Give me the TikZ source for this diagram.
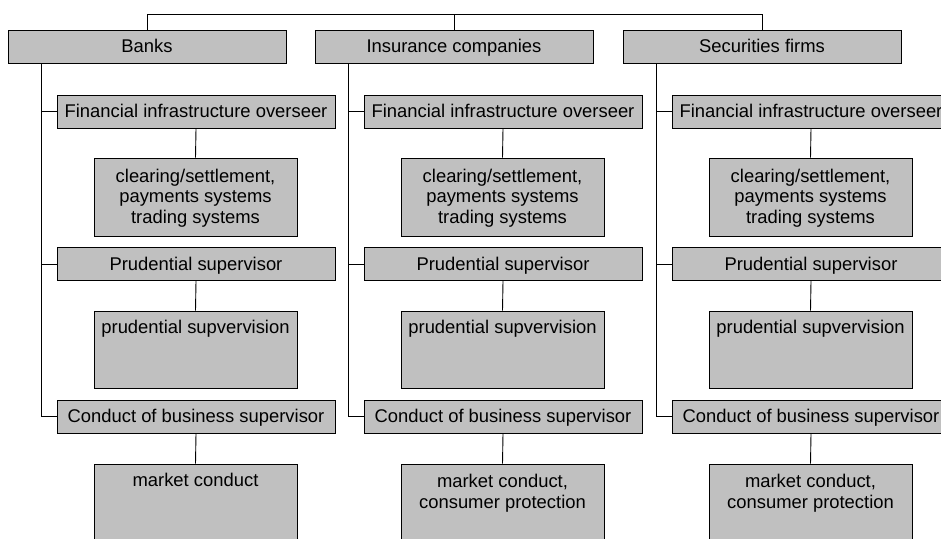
\documentclass[tikz,border=0pt]{standalone}
\usepackage{fontspec}
\setmainfont{Liberation Sans}
\usetikzlibrary{positioning}
\begin{document}
\begin{tikzpicture}[x=1pt,y=-1pt,
  every node/.style={font=\fontsize{18.4}{20.5}\selectfont},
  headbox/.style={draw=black,line width=0.9pt,fill=boxgray,minimum width=278pt,minimum height=33pt,inner sep=0pt,text height=14pt,text depth=2pt,anchor=center},
  detailbox/.style={draw=black,line width=0.9pt,fill=boxgray,minimum width=203pt,inner sep=0pt,anchor=center},
  dtext/.style={anchor=north,align=center,inner sep=0pt},
  conn/.style={draw=black,line width=0.9pt}
]
\definecolor{boxgray}{RGB}{192,192,192}
\clip (0,0) rectangle (941,538);
\fill[white] (0,0) rectangle (941,538);
% columns
\foreach \k/\dx/\title in {b/0/Banks, i/307/Insurance companies, s/615/Securities firms}{
  \node[headbox] (\k top) at (147+\dx,46.5) {\title};
  \node[headbox] (\k fio) at (196+\dx,111.5) {Financial infrastructure overseer};
  \node[headbox] (\k ps) at (196+\dx,264) {Prudential supervisor};
  \node[headbox] (\k cb) at (196+\dx,416.5) {Conduct of business supervisor};
  \node[detailbox,minimum height=78pt] (\k d1) at (195.5+\dx,197) {};
  \node[detailbox,minimum height=77pt] (\k d2) at (195.5+\dx,349.5) {};
  \node[detailbox,minimum height=90pt] (\k d3) at (195.5+\dx,509) {};
  \draw[conn] (\k fio.south) -- (\k d1.north);
  \draw[conn] (\k ps.south) -- (\k d2.north);
  \draw[conn] (\k cb.south) -- (\k d3.north);
  \draw[conn] (\k top.south west) ++(34,0) |- (\k cb.west);
  \draw[conn] (\k fio.west) -- ++(-15,0);
  \draw[conn] (\k ps.west) -- ++(-15,0);
  \node[dtext] at ([yshift=-11pt]\k d1.north) {clearing/settlement,\\payments systems\\trading systems};
  \node[dtext] at ([yshift=-9.7pt]\k d2.north) {prudential supvervision};
}
\node[dtext] at ([yshift=-9.5pt]bd3.north) {market conduct};
\node[dtext] at ([yshift=-10.5pt]id3.north) {market conduct,\\consumer protection};
\node[dtext] at ([yshift=-10.5pt]sd3.north) {market conduct,\\consumer protection};
% top bar
\draw[conn] (btop.north) -- ++(0,-15) -| (stop.north);
\draw[conn] (itop.north) -- ++(0,-15);
\end{tikzpicture}
\end{document}
